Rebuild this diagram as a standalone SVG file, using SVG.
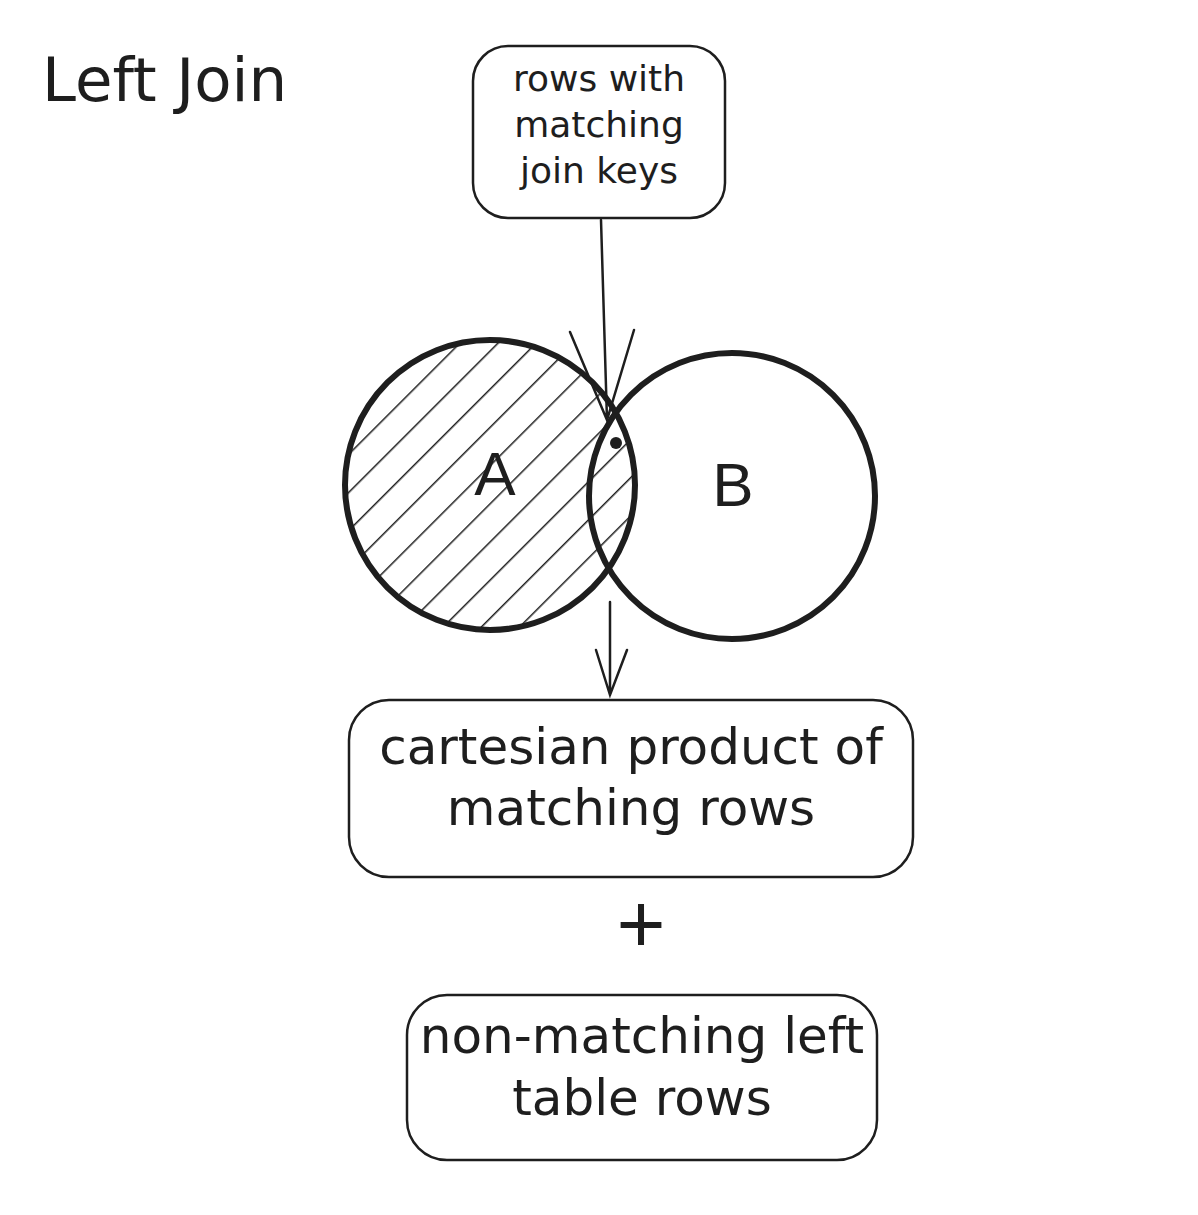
<svg xmlns="http://www.w3.org/2000/svg" width="1198" height="1215" viewBox="0 0 1198 1215">
<style>
.s{fill:none;stroke:#1e1e1e;stroke-width:2.5;stroke-linecap:round}
.c{fill:none;stroke:#1e1e1e;stroke-width:6}
.t{font-family:"DejaVu Sans",sans-serif;fill:#1e1e1e;text-anchor:middle}
.l{font-family:"Liberation Sans",sans-serif;fill:#1e1e1e;text-anchor:middle}
</style>
<defs>
<pattern id="h" width="27" height="27" patternUnits="userSpaceOnUse" patternTransform="rotate(45)">
<line x1="0" y1="0" x2="0" y2="27" stroke="#1e1e1e" stroke-width="3"/>
</pattern>
<clipPath id="ca"><circle cx="490" cy="485" r="146"/></clipPath>
</defs>
<rect width="1198" height="1215" fill="#fff"/>
<text x="42" y="101" font-size="61" font-family="DejaVu Sans,sans-serif" fill="#1e1e1e">Left Join</text>
<g id="top">
<rect class="s" x="473" y="46" width="252" height="172" rx="35"/>
<text class="t" font-size="36"><tspan x="599" y="91">rows with</tspan><tspan x="599" y="137">matching</tspan><tspan x="599" y="183">join keys</tspan></text>
</g>
<g id="A">
<rect x="340" y="335" width="300" height="300" fill="url(#h)" clip-path="url(#ca)"/>
<circle class="c" cx="490" cy="485" r="145"/>
<text class="l" x="495" y="495" font-size="62">A</text>
</g>
<g id="B">
<circle class="c" cx="732" cy="496" r="143"/>
<text class="l" x="733" y="506" font-size="62">B</text>
</g>
<g id="connectors">
<path class="s" d="M601 220 L607 420 M570 332 L607 420 L634 330"/>
<circle cx="616" cy="443" r="6" fill="#1e1e1e"/>
<path class="s" d="M610 602 L610 695 M596 650 L610 695 L627 650"/>
</g>
<g id="prod">
<rect class="s" x="349" y="700" width="564" height="177" rx="40"/>
<text class="t" font-size="50"><tspan x="631" y="764">cartesian product of</tspan><tspan x="631" y="825">matching rows</tspan></text>
</g>
<text class="l" x="641" y="952" font-size="84">+</text>
<g id="nonmatch">
<rect class="s" x="407" y="995" width="470" height="165" rx="40"/>
<text class="t" font-size="50"><tspan x="642" y="1053">non-matching left</tspan><tspan x="642" y="1115">table rows</tspan></text>
</g>
</svg>
